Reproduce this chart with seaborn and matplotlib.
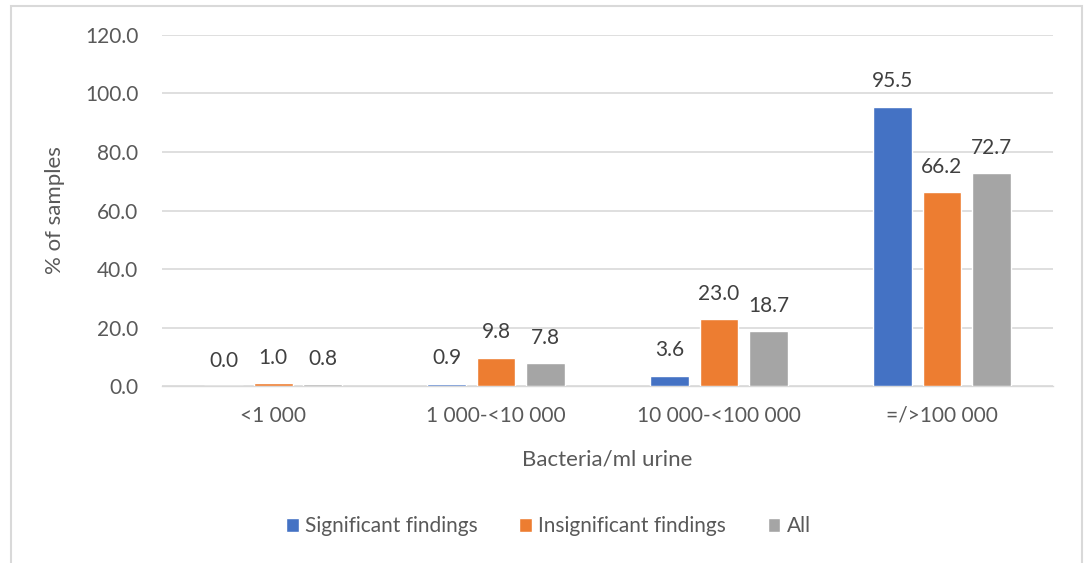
import seaborn as sns
import matplotlib.pyplot as plt
import pandas as pd
from matplotlib.patches import Rectangle

categories = ['<1 000', '1 000-<10 000', '10 000-<100 000', '=/>100 000']
significant = [0.0, 0.9, 3.6, 95.5]
insignificant = [1.0, 9.8, 23.0, 66.2]
all_samples = [0.8, 7.8, 18.7, 72.7]
series = ['Significant findings', 'Insignificant findings', 'All']
colors = ['#4472C4', '#ED7D31', '#A5A5A5']

df = pd.DataFrame({
    'cat': categories * 3,
    'val': significant + insignificant + all_samples,
    'series': [s for s in series for _ in categories],
})

sns.set_style('white')
plt.rcParams['font.family'] = ['Lato', 'DejaVu Sans']
txt = '#595959'

fig = plt.figure(figsize=(10.86, 5.63), dpi=100)
ax = fig.add_axes([0.149, 0.314, 0.821, 0.624])

sns.barplot(data=df, x='cat', y='val', hue='series', palette=colors,
            width=0.667, gap=0.22, saturation=1, ax=ax)

for c in ax.containers:
    ax.bar_label(c, fmt='%.1f', padding=11, fontsize=15, color='#404040')

ax.set_ylim(0, 120)
ax.set_yticks(range(0, 121, 20))
ax.set_yticklabels([f'{v:.1f}' for v in range(0, 121, 20)])
ax.set_xlim(-0.5, 3.5)
ax.yaxis.grid(True, color='#D9D9D9', lw=1.2)
ax.set_axisbelow(True)
for s in ['top', 'right', 'left']:
    ax.spines[s].set_visible(False)
ax.spines['bottom'].set_color('#D9D9D9')
ax.spines['bottom'].set_linewidth(1.0)
ax.spines['bottom'].set_zorder(0.5)
ax.tick_params(axis='both', length=0, labelsize=15, colors=txt)
ax.tick_params(axis='x', pad=14)
ax.tick_params(axis='y', pad=17)

ax.set_xlabel('Bacteria/ml urine', fontsize=16, color=txt, labelpad=17)
ax.set_ylabel('% of samples', fontsize=16, color=txt, labelpad=14)

leg = ax.legend(loc='center', bbox_to_anchor=(0.505, 0.065), bbox_transform=fig.transFigure,
                ncol=3, frameon=False, fontsize=15, handlelength=0.6, handleheight=0.6,
                handletextpad=0.3, columnspacing=2.0)
for t in leg.get_texts():
    t.set_color(txt)

# chart area border
fig.patches.append(Rectangle((0.0101, -0.05), 0.986, 1.039, transform=fig.transFigure,
                             fill=False, edgecolor='#D9D9D9', lw=1.5))

fig.savefig('out.png', dpi=100)
